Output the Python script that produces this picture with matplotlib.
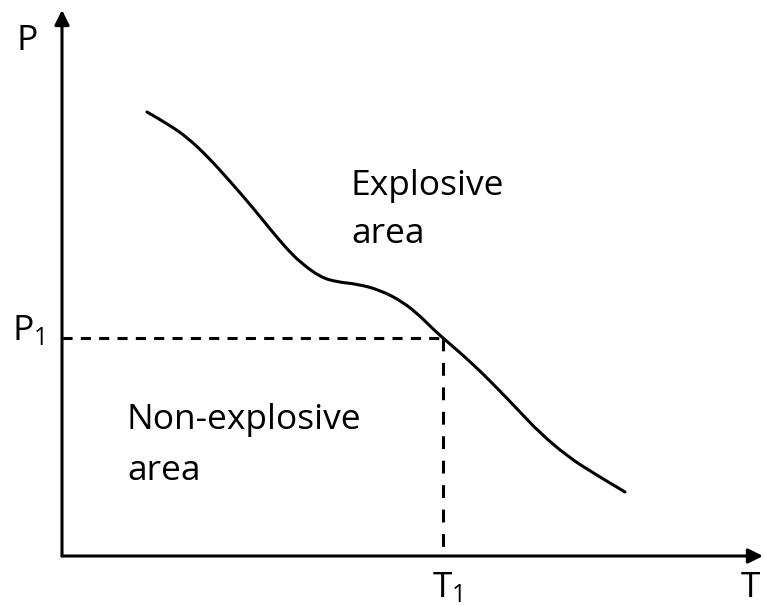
import matplotlib
matplotlib.use("Agg")
import matplotlib.pyplot as plt
from matplotlib.path import Path
from matplotlib.patches import PathPatch

plt.rcParams["font.family"] = ["Open Sans", "DejaVu Sans"]
plt.rcParams["mathtext.default"] = "regular"

# explosion limit curve, P against T
curve_T = [8.5, 10.6, 12.6, 14.6, 16.6, 18.6, 20.0, 21.3, 22.6, 23.8, 25.8,
           27.5, 29.5, 31.8, 34.1, 35.8, 37.0, 38.1, 41.1, 43.8, 45.8, 47.8,
           50.5, 53.1, 56.3]
curve_P = [44.4, 43.2, 41.8, 39.9, 37.7, 35.4, 33.7, 32.1, 30.6, 29.4, 27.9,
           27.4, 27.2, 26.6, 25.4, 24.0, 22.8, 21.8, 19.2, 16.5, 14.4, 12.3,
           10.0, 8.3, 6.4]

T1 = 38.1
P1 = 21.8
T_max = 70.1
P_max = 54.6

fig = plt.figure(figsize=(7.65, 6.06), dpi=100)
ax = fig.add_axes([62 / 765, 50 / 606, 701 / 765, 546 / 606])
ax.set_xlim(0, T_max)
ax.set_ylim(0, P_max)
ax.axis("off")

lw = 2.2
arrow = dict(arrowstyle="-|>", lw=lw, color="black", mutation_scale=22,
             shrinkA=0, shrinkB=0)
ax.annotate("", xy=(T_max, 0), xytext=(0, 0), arrowprops=arrow,
            annotation_clip=False)
ax.annotate("", xy=(0, P_max), xytext=(0, 0), arrowprops=arrow,
            annotation_clip=False)

# smooth the curve: quadratic segments with the points as control points
pts = list(zip(curve_T, curve_P))
verts = [pts[0]]
codes = [Path.MOVETO]
for i in range(1, len(pts) - 1):
    mid = ((pts[i][0] + pts[i + 1][0]) / 2, (pts[i][1] + pts[i + 1][1]) / 2)
    if i == len(pts) - 2:
        mid = pts[-1]
    verts += [pts[i], mid]
    codes += [Path.CURVE3, Path.CURVE3]
ax.add_patch(PathPatch(Path(verts, codes), fill=False, lw=lw,
                       edgecolor="black", capstyle="round", joinstyle="round"))

# dashed guides to P1 and T1
ax.plot([0, T1], [P1, P1], color="black", lw=lw, dashes=(3.3, 2.7))
ax.plot([T1, T1], [P1, 0], color="black", lw=lw, dashes=(4.2, 3.8))

fs = 25.5
ax.text(-4.6, 50.6, "P", fontsize=fs, ha="left", va="baseline")
ax.text(-5.0, 21.6, "P$_1$", fontsize=fs, ha="left", va="baseline")
ax.text(37.0, -4.1, "T$_1$", fontsize=fs, ha="left", va="baseline")
ax.text(67.9, -4.1, "T", fontsize=fs, ha="left", va="baseline")

ax.text(28.9, 36.1, "Explosive", fontsize=fs, ha="left", va="baseline")
ax.text(28.9, 31.3, "area", fontsize=fs, ha="left", va="baseline")
ax.text(6.5, 12.7, "Non-explosive", fontsize=fs, ha="left", va="baseline")
ax.text(6.5, 7.6, "area", fontsize=fs, ha="left", va="baseline")

fig.savefig("out.png", dpi=100)
